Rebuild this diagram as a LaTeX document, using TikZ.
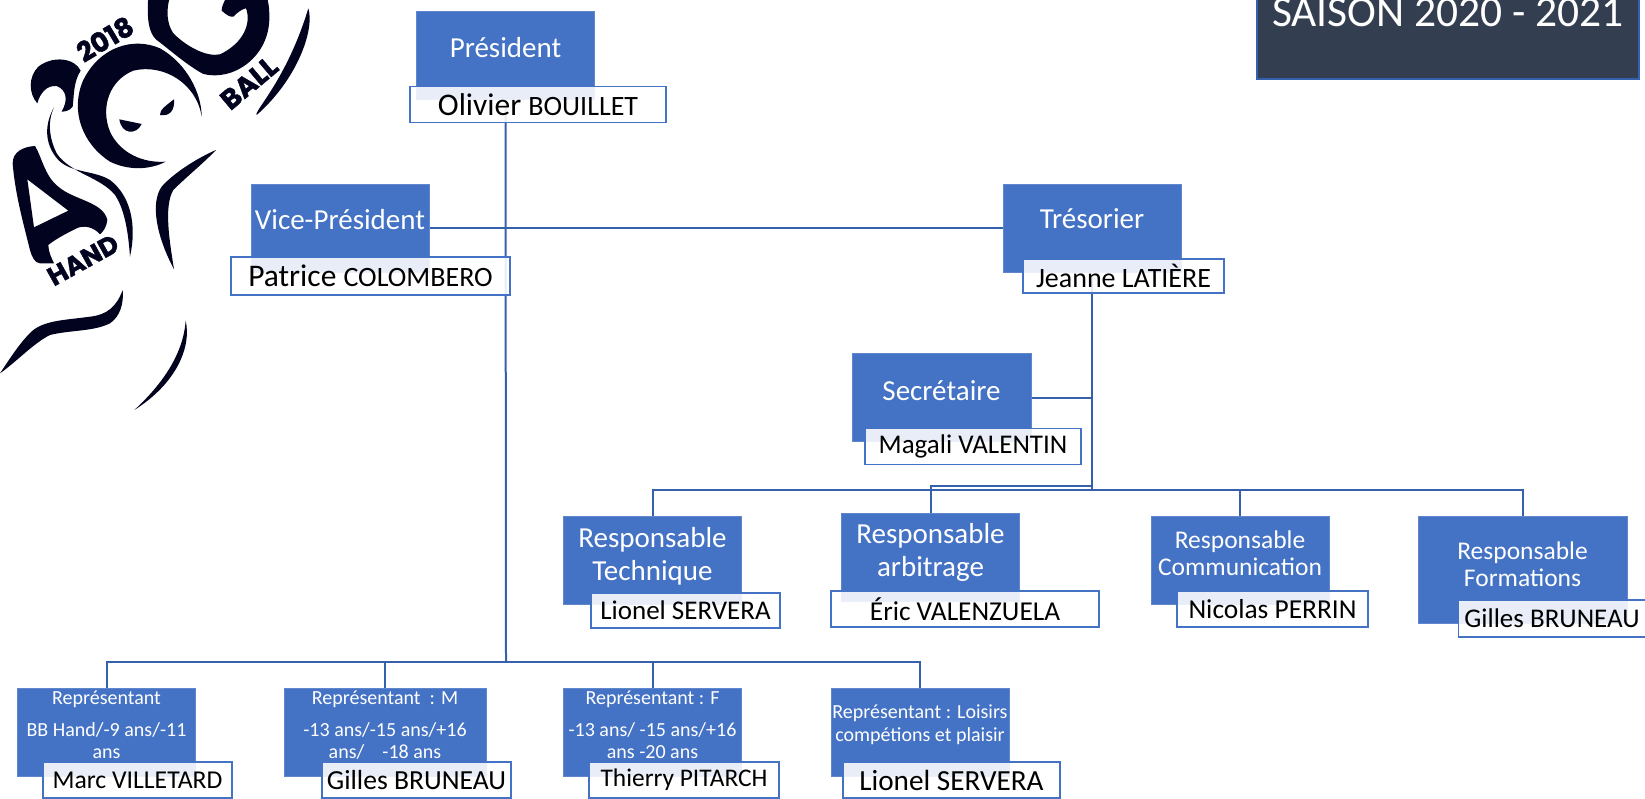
\documentclass[tikz,border=0pt]{standalone}
\usepackage{fontspec}
\setmainfont{Carlito}
\newfontfamily\logofont[BoldFeatures={FakeBold=1.6}]{Poppins}
\usetikzlibrary{backgrounds}
\definecolor{bleu}{HTML}{4472C4}
\definecolor{filet}{HTML}{3560AB}
\definecolor{ardoise}{HTML}{333F50}
\definecolor{encre}{HTML}{01031F}
\newcommand{\fs}[2]{\fontsize{#1}{#2}\selectfont}
\begin{document}
\begin{tikzpicture}
  [x=1pt,y=-1pt,every node/.style={inner sep=0pt}]
  \tikzstyle{poste} = [fill=bleu,draw=bleu!85!white,line width=.8pt,text=white,align=center,minimum width=178pt,minimum height=88pt,font=\fs{29}{33}]
  \tikzstyle{nom} = [fill=white,fill opacity=.88,text opacity=1,draw=bleu,line width=1.5pt,text=black,minimum height=36pt,font=\fs{27}{30}]
  \tikzstyle{lien} = [draw=filet,line width=2pt]
  \tikzstyle{logotexte} = [text=encre]
  \useasboundingbox (0,0) rectangle (1645,799);

  % titre
  \node[fill=ardoise,draw=filet,line width=1.2pt,text=white,minimum width=382pt,minimum height=120pt,text depth=14pt,font=\fs{43.5}{48}] (saison) at (1448,19) {SAISON 2020 - 2021};

  % bureau
  \node[poste,text depth=17pt] (pres) at (505.5,55.5) {Président};
  \node[poste,text depth=18pt] (vice) at (340,228) {Vice-Président};
  \node[poste,text depth=18pt] (tres) at (1092,228) {Trésorier};
  \node[poste,text depth=13pt,minimum width=179pt] (sec) at (941.5,397.5) {Secrétaire};
  \node[nom,minimum width=256pt,font=\fs{31.5}{34}] (presnom) at (538,104.5) {Olivier {\fs{28}{34}BOUILLET}};
  \node[nom,minimum width=279pt,minimum height=38pt,font=\fs{31.5}{34}] (vicenom) at (370.5,276) {Patrice {\fs{28}{34}COLOMBERO}};
  \node[nom,minimum width=201pt,minimum height=34pt,font=\fs{28}{30}] (tresnom) at (1123.5,276) {Jeanne LATIÈRE};
  \node[nom,minimum width=216pt] (secnom) at (973,446.5) {Magali VALENTIN};

  % responsables
  \node[poste,text depth=12pt] (tech) at (652.5,560) {Responsable\\Technique};
  \node[poste,text depth=15pt] (arb) at (930.5,557.5) {Responsable\\arbitrage};
  \node[poste,text depth=13pt,font=\fs{25.5}{27}] (com) at (1240,560) {Responsable\\Communication};
  \node[poste,text depth=10pt,minimum width=209pt,minimum height=107pt,font=\fs{25.5}{27}] (form) at (1522.5,569.5) {Responsable\\Formations};
  \node[nom,minimum width=189pt,minimum height=35pt] (technom) at (685.5,610.5) {Lionel SERVERA};
  \node[nom,minimum width=268pt,font=\fs{27.3}{30}] (arbnom) at (965,609) {Éric VALENZUELA};
  \node[nom,minimum width=191pt,font=\fs{27.4}{30}] (comnom) at (1272.5,609) {Nicolas PERRIN};
  \node[nom,minimum width=187pt,minimum height=37pt] (formnom) at (1552,618.5) {Gilles BRUNEAU};

  % representants
  \node[poste,text depth=14pt,font=\fs{20}{22.5}] (rep1) at (106.5,732) {Représentant\\[9pt]BB Hand/-9 ans/-11\\ans};
  \node[poste,text depth=14pt,minimum width=202pt,font=\fs{20}{22.5}] (rep2) at (385,732) {Représentant~~: M\\[9pt]-13 ans/-15 ans/+16\\ans/~~~~-18 ans};
  \node[poste,text depth=14pt,font=\fs{20}{22.5}] (rep3) at (652.5,732) {Représentant : F\\[9pt]-13 ans/ -15 ans/+16\\ans -20 ans};
  \node[poste,text depth=17pt,font=\fs{20}{23}] (rep4) at (920,732) {Représentant : Loisirs\\compétions et plaisir};
  \node[nom,minimum width=189pt,font=\fs{25.7}{30}] (rep1nom) at (137.5,780) {Marc VILLETARD};
  \node[nom,minimum width=189pt,font=\fs{27.6}{30}] (rep2nom) at (416.5,780) {Gilles BRUNEAU};
  \node[nom,minimum width=190pt,font=\fs{25.4}{30}] (rep3nom) at (684,780) {Thierry PITARCH};
  \node[nom,minimum width=217pt,font=\fs{29.2}{30}] (rep4nom) at (951.5,780) {Lionel SERVERA};

  \coordinate (jbas) at (506,662);
  \coordinate (jtres) at (1092,490);
  \coordinate (jarb) at (1092,486);

  \begin{scope}[on background layer]
    \draw[lien] (pres.south) -- (jbas);
    \draw[lien] (vice.east) -- (tres.west);
    \draw[lien] (tres.south) -- (jtres);
    \draw[lien] (sec.east) -| (jtres);
    \foreach \source /\dest in {jbas/rep1,jbas/rep2,jbas/rep3,jbas/rep4,jtres/tech,jarb/arb,jtres/com,jtres/form}
      \draw[lien] (\source) -| (\dest.north);
  \end{scope}

  % logo
  \begin{scope}[scale=1/3,fill=encre]
    \fill (605,350) .. controls (605,280) and (560,190) .. (480,145) .. controls (400,110) and (300,140) .. (250,240) .. controls (210,330) and (245,430) .. (330,485) .. controls (385,512) and (450,510) .. (497,485) .. controls (430,490) and (360,460) .. (330,395) .. controls (300,320) and (330,240) .. (400,212) .. controls (490,190) and (590,250) .. (605,350) -- cycle;
    \fill (445,-10) .. controls (440,50) and (445,100) .. (470,120) .. controls (510,150) and (560,195) .. (610,222) .. controls (700,245) and (810,170) .. (808,50) .. controls (808,20) and (805,5) .. (800,-10) -- (680,-10) .. controls (670,10) and (665,20) .. (665,32) .. controls (680,45) and (690,52) .. (700,50) .. controls (715,35) and (725,28) .. (738,25) .. controls (755,70) and (730,130) .. (660,163) .. controls (620,172) and (560,140) .. (520,100) .. controls (500,70) and (498,30) .. (510,-10) -- cycle;
    \fill (112,310) .. controls (85,280) and (85,230) .. (115,200) .. controls (160,165) and (225,175) .. (242,212) .. controls (220,245) and (222,290) .. (218,320) .. controls (210,332) and (195,335) .. (185,335) .. controls (205,300) and (200,270) .. (170,258) .. controls (140,255) and (120,280) .. (112,310) -- cycle;
    \fill (162,322) .. controls (135,370) and (130,430) .. (175,480) .. controls (215,520) and (280,510) .. (330,540) .. controls (395,590) and (410,680) .. (390,770) .. controls (385,700) and (375,630) .. (345,585) .. controls (300,530) and (210,520) .. (170,460) .. controls (150,420) and (140,370) .. (162,322) -- cycle;
    \fill[even odd rule] (38,490) .. controls (38,455) and (70,440) .. (105,438) .. controls (125,470) and (135,530) .. (175,560) .. controls (220,600) and (310,605) .. (322,660) .. controls (320,680) and (310,695) .. (300,703) .. controls (280,680) and (250,675) .. (230,685) .. controls (200,700) and (170,715) .. (145,735) .. controls (145,755) and (155,775) .. (162,790) -- (120,790) .. controls (105,790) and (95,770) .. (90,750) .. controls (70,670) and (45,580) .. (38,490) -- cycle (82,538) -- (205,632) -- (102,682) -- cycle;
    \fill (648,450) .. controls (590,475) and (520,520) .. (485,560) .. controls (450,610) and (470,710) .. (522,808) .. controls (510,730) and (490,620) .. (520,570) .. controls (560,530) and (610,490) .. (648,450) -- cycle;
    \fill (368,870) .. controls (350,920) and (320,945) .. (270,950) .. controls (200,960) and (140,960) .. (100,990) .. controls (65,1020) and (30,1075) .. (0,1120) .. controls (50,1085) and (100,1030) .. (150,1005) .. controls (210,990) and (280,995) .. (330,970) .. controls (360,950) and (372,910) .. (368,870) -- cycle;
    \fill (557,962) .. controls (575,1040) and (530,1150) .. (403,1230) .. controls (490,1150) and (550,1060) .. (557,962) -- cycle;
    \fill (925,25) .. controls (945,90) and (890,240) .. (770,345) .. controls (760,335) and (860,240) .. (925,25) -- cycle;
    \fill (358,358) -- (425,372) .. controls (410,405) and (365,405) .. (358,358) -- cycle;
    \fill (522,298) .. controls (525,330) and (510,350) .. (480,345) .. controls (478,330) and (500,315) .. (522,298) -- cycle;
  \end{scope}
  \node[logotexte,font=\logofont\bfseries\fs{27}{27},rotate=31] (annee) at (105,39) {2018};
  \node[logotexte,font=\logofont\bfseries\fs{27.5}{27},rotate=40] (ball) at (249,83) {BALL};
  \node[logotexte,font=\logofont\bfseries\fs{26}{27},rotate=29] (hand) at (83,260) {HAND};
\end{tikzpicture}
\end{document}
